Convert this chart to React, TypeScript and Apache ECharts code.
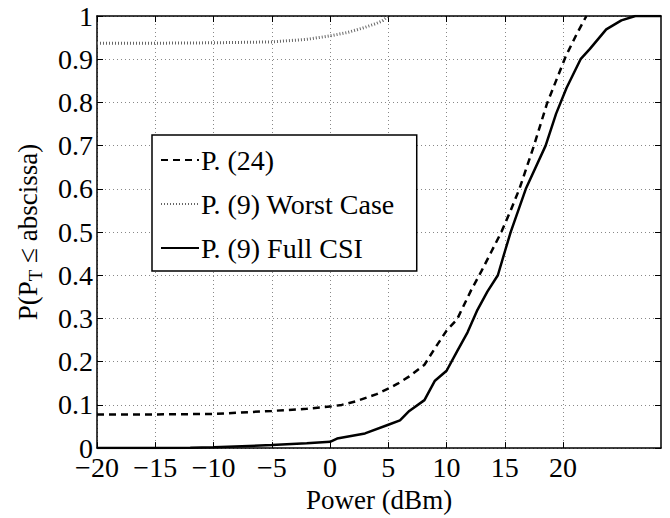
import React, { useEffect, useRef } from "react";
import * as echarts from "echarts";

const xTicks = [-20, -15, -10, -5, 0, 5, 10, 15, 20];
const seriesNames = ["P. (24)", "P. (9) Worst Case", "P. (9) Full CSI"];

const p24: [number, number][] = [
  [-20, 0.078], [-15, 0.078], [-10, 0.079], [-5, 0.086], [-2, 0.091], [0, 0.096],
  [1, 0.1], [2.3, 0.109], [4, 0.125], [5.1, 0.139], [5.8, 0.149], [6.8, 0.166],
  [8.1, 0.193], [9, 0.231], [10, 0.272], [10.9, 0.298], [12.1, 0.365], [13, 0.41],
  [13.85, 0.455], [14.7, 0.5], [15.5, 0.55], [16.25, 0.6], [17.5, 0.7], [18.6, 0.796],
  [20.2, 0.905], [21.2, 0.96], [22.0, 1.0],
];

const worstCase: [number, number][] = [
  [-20, 0.937], [-15, 0.937], [-10, 0.938], [-5, 0.94], [-2, 0.946], [0, 0.954],
  [1.5, 0.962], [2.8, 0.972], [4, 0.983], [4.5, 0.989], [5, 1.0],
];

const fullCsi: [number, number][] = [
  [-20, 0], [-15, 0], [-12, 0.001], [-10, 0.002], [-5, 0.007], [-2, 0.011], [0, 0.0145],
  [0.6, 0.022], [3, 0.034], [5, 0.054], [6, 0.064], [6.8, 0.086], [8.1, 0.111],
  [9, 0.156], [10, 0.179], [10.9, 0.224], [11.8, 0.268], [12.65, 0.32], [13.5, 0.362],
  [14.4, 0.4], [15, 0.455], [15.5, 0.5], [16.8, 0.6], [18.5, 0.7], [19.4, 0.774],
  [20.3, 0.834], [21.5, 0.9], [22.3, 0.924], [23.7, 0.969], [25, 0.99], [26.2, 1.0],
  [28.4, 1.0],
];

const FONT = "Liberation Serif";
const FS = 28;

export default function App() {
  const ref = useRef<HTMLDivElement>(null);
  useEffect(() => {
    if (!ref.current) return;
    const chart = echarts.init(ref.current, undefined, { renderer: "svg" });
    const axisLine = { show: true, onZero: false, lineStyle: { color: "#000", width: 1.5 } };
    const tick = { show: true, inside: true, length: 6, lineStyle: { color: "#000", width: 1 } };
    chart.setOption({
      animation: false,
      backgroundColor: "#fff",
      textStyle: { fontFamily: FONT },
      grid: { left: 97, right: 9, top: 16, bottom: 56 },
      legend: {
        orient: "vertical",
        left: 152,
        top: 135,
        backgroundColor: "#fff",
        borderColor: "#000",
        borderWidth: 1.5,
        borderRadius: 0,
        padding: [11, 22, 9, 8],
        itemWidth: 38,
        itemHeight: 12,
        itemGap: 16,
        itemStyle: { color: "transparent", borderColor: "transparent", borderWidth: 0, opacity: 0 },
        textStyle: { fontFamily: FONT, fontSize: FS, color: "#000", padding: [0, 0, 0, -3] },
        data: seriesNames,
      },
      xAxis: [
        {
          type: "value",
          min: -20,
          max: 28.4,
          interval: 5,
          position: "bottom",
          axisLine,
          axisTick: { ...tick, customValues: xTicks },
          axisLabel: {
            customValues: xTicks,
            margin: 5,
            fontFamily: FONT,
            fontSize: FS,
            color: "#000",
            formatter: (v: number) => String(v).replace("-", "\u2212"),
          },
          splitLine: { show: true, lineStyle: { color: "#888", width: 1, type: [1, 3] } },
          name: "Power (dBm)",
          nameLocation: "middle",
          nameGap: 27,
          nameTextStyle: { fontFamily: FONT, fontSize: 27, color: "#000" },
        },
        {
          type: "value",
          min: -20,
          max: 28.4,
          interval: 5,
          position: "top",
          axisLine,
          axisTick: { ...tick, customValues: xTicks },
          axisLabel: { show: false },
          splitLine: { show: false },
        },
      ],
      yAxis: [
        {
          type: "value",
          min: 0,
          max: 1,
          interval: 0.1,
          position: "left",
          axisLine,
          axisTick: tick,
          axisLabel: {
            margin: 4,
            fontFamily: FONT,
            fontSize: FS,
            color: "#000",
            formatter: (v: number) => (v === 0 ? "0" : v === 1 ? "1" : v.toFixed(1)),
          },
          splitLine: { show: true, lineStyle: { color: "#888", width: 1, type: [1, 3] } },
          name: "{a|P(P}{s|T}{a| \u2264 abscissa)}",
          nameLocation: "middle",
          nameGap: 52,
          nameTextStyle: {
            rich: {
              a: { fontFamily: FONT, fontSize: 27, color: "#000" },
              s: { fontFamily: FONT, fontSize: 19, color: "#000", padding: [16, 0, 0, 0] },
            },
          },
        },
        {
          type: "value",
          min: 0,
          max: 1,
          interval: 0.1,
          position: "right",
          axisLine,
          axisTick: tick,
          axisLabel: { show: false },
          splitLine: { show: false },
        },
      ],
      series: [
        {
          name: seriesNames[0],
          type: "line",
          data: p24,
          symbol: "none",
          lineStyle: { color: "#000", width: 2.5, type: [7, 5] },
          itemStyle: { color: "#000" },
        },
        {
          name: seriesNames[1],
          type: "line",
          data: worstCase,
          symbol: "none",
          lineStyle: { color: "#666", width: 3, type: [1, 2] },
          itemStyle: { color: "#666" },
        },
        {
          name: seriesNames[2],
          type: "line",
          data: fullCsi,
          symbol: "none",
          lineStyle: { color: "#000", width: 2.5 },
          itemStyle: { color: "#000" },
        },
      ],
    });
    return () => chart.dispose();
  }, []);
  return (
    <div
      ref={ref}
      style={{ position: "absolute", left: 0, top: 0, width: 670, height: 518 }}
    />
  );
}
